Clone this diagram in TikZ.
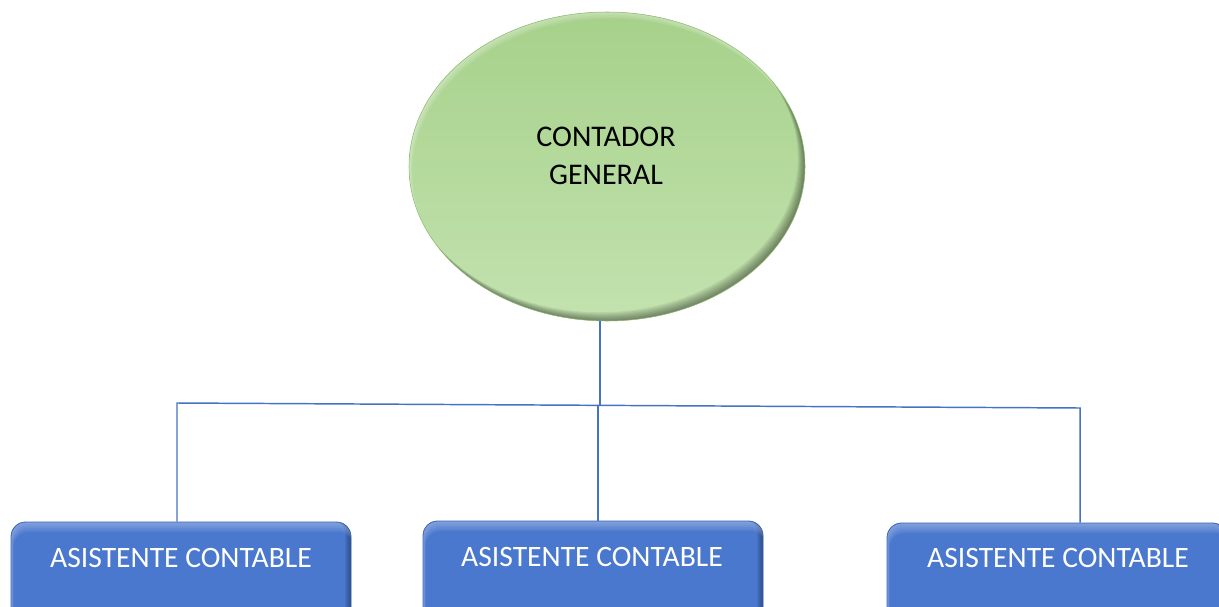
\documentclass[tikz,border=0pt]{standalone}
\usepackage{fontspec}
\setmainfont{Carlito}
\usetikzlibrary{shapes.geometric}
\definecolor{lineblue}{HTML}{4472C4}
\definecolor{boxblue}{HTML}{4A78CE}
\definecolor{boxedge}{HTML}{3A62B0}
\definecolor{greentop}{HTML}{A6D18A}
\definecolor{greenbot}{HTML}{C3E2AF}
\definecolor{greenedge}{HTML}{8CBA70}
\tikzset{
  link/.style={draw=lineblue, line width=1.1pt},
  bossshape/.style={ellipse, minimum width=297pt, minimum height=231.75pt,
    inner sep=0pt, top color=greentop, bottom color=greenbot, draw=greenedge,
    line width=0.4pt,
    path picture={
      % soft dark rim towards the lower right
      \foreach \i in {1,...,8}{
        \fill[black, opacity=0.06, even odd rule]
          (path picture bounding box.center) ++(-2000,-2000) rectangle ++(4000,4000)
          (path picture bounding box.center) ++(-0.9*\i,-1.1*\i) ellipse [x radius=198, y radius=154.5];
      }
      % light rim towards the upper left
      \foreach \i in {1,...,4}{
        \fill[white, opacity=0.1, even odd rule]
          (path picture bounding box.center) ++(-2000,-2000) rectangle ++(4000,4000)
          (path picture bounding box.center) ++(0.8*\i,1.6*\i) ellipse [x radius=198, y radius=154.5];
      }
    }},
  bosstext/.style={align=center, font=\fontsize{22.5}{28.5}\selectfont, text=black},
  assistshape/.style={rectangle, rounded corners=11pt, minimum width=255pt,
    minimum height=90pt, inner sep=0pt, fill=boxblue, draw=boxedge, line width=0.6pt,
    path picture={
      % dark rim on the right and lower side
      \foreach \i in {1,...,6}{
        \fill[black, opacity=0.06, even odd rule, rounded corners=11pt]
          ([shift={(-2000,-2000)}]path picture bounding box.center) rectangle ++(4000,4000)
          ([shift={(-1.0*\i,-0.4*\i)}]path picture bounding box.north west) rectangle
          ([shift={(-1.0*\i,-0.4*\i)}]path picture bounding box.south east);
      }
      % light band along the top edge
      \foreach \i in {1,...,5}{
        \fill[white, opacity=0.07, even odd rule, rounded corners=11pt]
          ([shift={(-2000,-2000)}]path picture bounding box.center) rectangle ++(4000,4000)
          ([shift={(0.5*\i,2.0*\i)}]path picture bounding box.north west) rectangle
          ([shift={(0.5*\i,2.0*\i)}]path picture bounding box.south east);
      }
    }},
  assisttext/.style={font=\fontsize{22.2}{26}\selectfont, text=white}
}
\begin{document}
\begin{tikzpicture}[x=0.75pt, y=-0.75pt]
\useasboundingbox (0,0) rectangle (1219,606);
\clip (0,0) rectangle (1219,606);

% head of the chart
\node[bossshape] (boss) at (607,166.5) {};
\node[bosstext] (bosslabel) at (606,156) {CONTADOR\\GENERAL};

% the three assistants (their lower part runs off the page)
\node[assistshape] (a1) at (181,582) {};
\node[assistshape] (a2) at (593,581) {};
\node[assistshape] (a3) at (1057,583) {};
\node[assisttext] (l1) at (181,558) {ASISTENTE CONTABLE};
\node[assisttext] (l2) at (592,557) {ASISTENTE CONTABLE};
\node[assisttext] (l3) at (1058,558) {ASISTENTE CONTABLE};

% junction points of the connector tree
\coordinate (j) at (600,405.5);
\coordinate (jl) at (177,403);
\coordinate (jm) at (598,405.5);
\coordinate (jr) at (1080,408);

\draw[link] (j |- boss.south) -- (j);
\draw[link] (jl |- a1.north) -- (jl) -- (jr) -- (jr |- a3.north);
\draw[link] (jm) -- (jm |- a2.north);
\end{tikzpicture}
\end{document}
